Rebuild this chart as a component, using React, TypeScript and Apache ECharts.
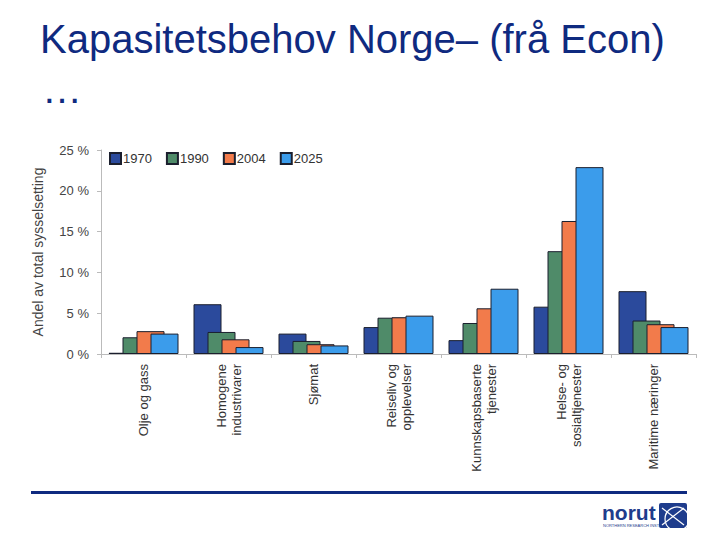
import React, { useEffect, useRef } from "react";
import * as echarts from "echarts";

const categories = [
  "Olje og gass",
  "Homogene\nindustrivarer",
  "Sjømat",
  "Reiseliv og\nopplevelser",
  "Kunnskapsbaserte\ntjenester",
  "Helse- og\nsosialtjenester",
  "Maritime næringer",
];
const years = ["1970", "1990", "2004", "2025"];
const v1970 = [0.15, 6.1, 2.5, 3.3, 1.7, 5.8, 7.7];
const v1990 = [2.05, 2.7, 1.6, 4.45, 3.8, 12.6, 4.1];
const v2004 = [2.8, 1.8, 1.2, 4.5, 5.6, 16.3, 3.65];
const v2025 = [2.5, 0.85, 1.05, 4.7, 8.0, 22.9, 3.3];
const yTicks = [0, 5, 10, 15, 20, 25];

const colors = ["#2b4a9c", "#4f8b69", "#f27b4b", "#3b9ceb"];
const navy = "#0f2a80";
const FONT = "'Liberation Sans', Arial, sans-serif";

export default function App() {
  const ref = useRef<HTMLDivElement>(null);
  useEffect(() => {
    if (!ref.current) return;
    const chart = echarts.init(ref.current, undefined, { renderer: "svg" });
    const seriesData = [v1970, v1990, v2004, v2025];
    chart.setOption({
      animation: false,
      backgroundColor: "#ffffff",
      textStyle: { fontFamily: FONT },
      title: {
        text: "Kapasitetsbehov Norge– (frå Econ)",
        left: 35,
        top: 14,
        textStyle: { fontFamily: FONT, fontSize: 40, fontWeight: "normal", color: navy },
      },
      legend: {
        left: 104,
        top: 147,
        itemWidth: 11,
        itemHeight: 11,
        itemGap: 14,
        icon: "rect",
        textStyle: { fontSize: 13, color: "#333", fontFamily: FONT, padding: [0, 0, 0, -3] },
        data: years,
      },
      grid: { left: 101, right: 24, top: 150, bottom: 186, containLabel: false },
      xAxis: {
        type: "category",
        data: categories,
        axisLine: { lineStyle: { color: "#bbbbbb" } },
        axisTick: { show: true, alignWithLabel: false, length: 4, lineStyle: { color: "#bbbbbb" } },
        axisLabel: {
          rotate: 90,
          interval: 0,
          margin: 10,
          fontSize: 13,
          lineHeight: 15,
          color: "#333",
          fontFamily: FONT,
          align: "right",
        },
      },
      yAxis: {
        type: "value",
        min: yTicks[0],
        max: yTicks[yTicks.length - 1],
        interval: 5,
        name: "Andel av total sysselsetting",
        nameLocation: "middle",
        nameGap: 56,
        nameTextStyle: { fontSize: 14, color: "#444", fontFamily: FONT },
        axisLine: { show: true, lineStyle: { color: "#bbbbbb" } },
        axisTick: { show: true, length: 4, lineStyle: { color: "#bbbbbb" } },
        splitLine: { show: false },
        axisLabel: { formatter: "{value} %", fontSize: 13, color: "#444", margin: 12, fontFamily: FONT },
      },
      series: years.map((y, i) => ({
        name: y,
        type: "bar",
        data: seriesData[i],
        barWidth: 28,
        barGap: "-50%",
        itemStyle: { color: colors[i], borderColor: "#1b1f2e", borderWidth: 1 },
      })),
      graphic: [
        {
          type: "text",
          left: 42,
          top: 69,
          style: { text: "…", fontSize: 40, fill: navy, fontFamily: FONT },
        },
        {
          type: "rect",
          shape: { x: 31, y: 491, width: 656, height: 3 },
          style: { fill: navy },
        },
        {
          type: "text",
          left: 602,
          top: 502,
          style: { text: "norut", fontSize: 21, fontWeight: "bold", fill: "#1e3c8c", fontFamily: FONT },
        },
        {
          type: "text",
          left: 603,
          top: 523,
          style: { text: "NORTHERN RESEARCH INSTITUTE", fontSize: 4, fill: "#1e3c8c", fontFamily: FONT },
        },
        {
          type: "group",
          left: 659,
          top: 503,
          children: [
            { type: "rect", shape: { x: 0, y: 0, width: 28, height: 25, r: 2 }, style: { fill: "#1e3c8c" } },
            { type: "circle", shape: { cx: 18, cy: 16, r: 12 }, style: { fill: "none", stroke: "#fff", lineWidth: 1.2 } },
            { type: "line", shape: { x1: 3, y1: 5, x2: 25, y2: 22 }, style: { stroke: "#fff", lineWidth: 1.2 } },
            { type: "line", shape: { x1: 3, y1: 22, x2: 25, y2: 5 }, style: { stroke: "#fff", lineWidth: 1.2 } },
          ],
        },
      ],
    });
    return () => chart.dispose();
  }, []);
  return (
    <div
      ref={ref}
      style={{ position: "fixed", left: 0, top: 0, width: 720, height: 540 }}
    />
  );
}
